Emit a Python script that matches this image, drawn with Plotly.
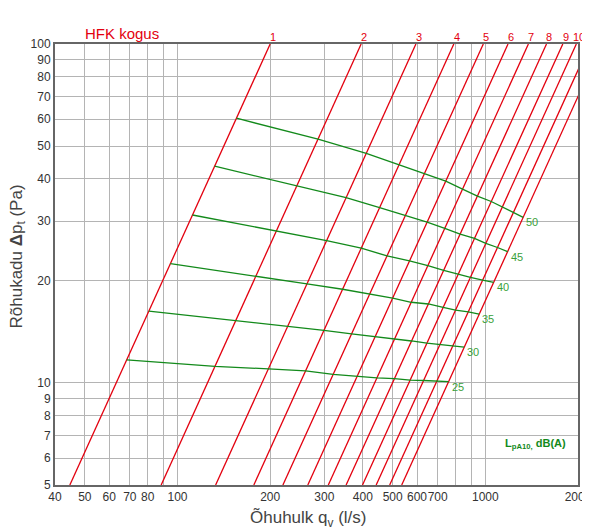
import numpy as np
import plotly.graph_objects as go

# ---- data ----
# damper-position (red) lines: flow q (l/s) at 5 Pa and at 100 Pa
damper_labels = ["1", "2", "3", "4", "5", "6", "7", "8", "9", "10", "11", "12"]
damper_q_at_5 = [44.7, 88.5, 133, 177, 220, 265, 309, 353, 399, 442, 489, 535]
damper_q_at_100 = [200, 395, 595, 790, 985, 1185, 1380, 1580, 1785, 1975, 2185, 2390]

# sound level (green) lines: pressure drop at each crossing with damper lines 1..12
sound_levels = [25, 30, 35, 40, 45, 50]
sound_dp_25 = [11.7, 11.2, 11.0, 10.86, 10.6, 10.45, 10.35, 10.3, 10.2, 10.17, 10.14, 10.09]
sound_dp_30 = [16.3, 15.3, 14.7, 14.3, 13.95, 13.7, 13.5, 13.3, 13.1, 12.98, 12.9, 12.75]
sound_dp_35 = [22.5, 20.7, 19.6, 18.9, 18.3, 17.8, 17.3, 17.1, 16.7, 16.4, 16.2, 15.95]
sound_dp_40 = [31.3, 28.1, 26.3, 25.0, 23.7, 22.9, 22.2, 21.5, 21.0, 20.5, 20.1, 19.8]
sound_dp_45 = [43.6, 38.2, 35.2, 32.9, 31.2, 29.8, 28.6, 27.5, 26.7, 25.8, 25.1, 24.4]
sound_dp_50 = [60.4, 52.4, 47.6, 44.0, 41.4, 39.4, 37.3, 35.6, 34.3, 33.0, 31.9, 30.8]
sound_dp = [sound_dp_25, sound_dp_30, sound_dp_35, sound_dp_40, sound_dp_45, sound_dp_50]

x_tickvals = [40, 50, 60, 70, 80, 90, 100, 200, 300, 400, 500, 600, 700, 800, 900, 1000, 2000]
x_ticktext = ["40", "50", "60", "70", "80", " ", "100", "200", "300", "400", "500", "600", "700", " ", " ", "1000", "2000"]
y_tickvals = [5, 6, 7, 8, 9, 10, 20, 30, 40, 50, 60, 70, 80, 90, 100]
y_ticktext = [str(v) for v in y_tickvals]

RED = "#e3000f"
GREEN = "#138a1b"
GREEN_TXT = "#3a9f3a"
FONT = "Liberation Sans, Arial, sans-serif"


def q_on_damper(i, dp):
    q5, q100 = damper_q_at_5[i], damper_q_at_100[i]
    expo = np.log(q100 / q5) / np.log(20.0)
    return q5 * (np.asarray(dp) / 5.0) ** expo


def dp_on_damper(i, q):
    q5, q100 = damper_q_at_5[i], damper_q_at_100[i]
    expo = np.log(20.0) / np.log(q100 / q5)
    return 5.0 * (q / q5) ** expo


fig = go.Figure()

for i, lab in enumerate(damper_labels):
    fig.add_trace(go.Scatter(x=[damper_q_at_5[i], damper_q_at_100[i]], y=[5, 100],
                             mode="lines", line=dict(color=RED, width=1.3),
                             showlegend=False, hoverinfo="skip"))

for lvl, dps in zip(sound_levels, sound_dp):
    qs = [float(q_on_damper(i, d)) for i, d in enumerate(dps)]
    fig.add_trace(go.Scatter(x=qs, y=dps, mode="lines",
                             line=dict(color=GREEN, width=1.3),
                             showlegend=False, hoverinfo="skip"))

annotations = []
for i, lab in enumerate(damper_labels):
    if damper_q_at_100[i] <= 2000:
        annotations.append(dict(x=np.log10(damper_q_at_100[i]), y=2.0, xref="x", yref="y",
                                text=lab, showarrow=False, xanchor="center", yanchor="bottom",
                                xshift=3, yshift=-1, font=dict(size=11, color=RED, family=FONT)))
    else:
        annotations.append(dict(x=np.log10(2000), y=np.log10(dp_on_damper(i, 2000.0)),
                                xref="x", yref="y", text=lab, showarrow=False,
                                xanchor="left", yanchor="middle", xshift=3, yshift=1,
                                font=dict(size=11, color=RED, family=FONT)))

for lvl, dps in zip(sound_levels, sound_dp):
    q_end = float(q_on_damper(len(damper_labels) - 1, dps[-1]))
    annotations.append(dict(x=np.log10(q_end), y=np.log10(dps[-1]), xref="x", yref="y",
                            text=str(lvl), showarrow=False, xanchor="left", yanchor="middle",
                            xshift=1, yshift=-5, font=dict(size=11, color=GREEN_TXT, family=FONT)))

annotations += [
    dict(x=0.054, y=1.0, xref="paper", yref="paper", text="HFK kogus", showarrow=False,
         xanchor="left", yanchor="bottom", xshift=0, yshift=0,
         font=dict(size=15, color=RED, family=FONT)),
    dict(x=0.5, y=0.0, xref="paper", yref="paper", text="Õhuhulk q<sub>v</sub> (l/s)",
         showarrow=False, xanchor="center", yanchor="middle", xshift=-8, yshift=-34,
         font=dict(size=17, color="#444", family=FONT)),
    dict(x=0.0, y=0.5, xref="paper", yref="paper", text="Rõhukadu <b>Δ</b>p<sub>t</sub> (Pa)",
         showarrow=False, xanchor="center", yanchor="middle", xshift=-38, yshift=8,
         textangle=-90, font=dict(size=17, color="#444", family=FONT)),
    dict(x=1.0, y=np.log10(7.0), xref="paper", yref="y",
         text="<b>L<sub>pA10,</sub> dB(A)</b>", showarrow=False, xanchor="right",
         yanchor="middle", xshift=-10, yshift=-9,
         font=dict(size=11, color=GREEN, family=FONT)),
]

# page body adds an 8px offset, so the figure is sized to fit the 590x529 window
fig.update_layout(
    width=582, height=521,
    margin=dict(l=47, r=12, t=36, b=44),
    paper_bgcolor="white", plot_bgcolor="white",
    font=dict(family=FONT, color="#333", size=12),
    annotations=annotations,
    showlegend=False,
)
fig.update_xaxes(type="log", range=[np.log10(40), np.log10(2000)],
                 tickmode="array", tickvals=x_tickvals, ticktext=x_ticktext,
                 tickangle=0, automargin=False, ticklabeloverflow="allow",
                 showgrid=True, gridcolor="#b4b4b4", gridwidth=1.2,
                 showline=True, linecolor="#666", linewidth=2, mirror=True,
                 ticks="", zeroline=False, tickfont=dict(size=12, color="#333"))
fig.update_yaxes(type="log", range=[np.log10(5), np.log10(100)],
                 tickmode="array", tickvals=y_tickvals, ticktext=y_ticktext,
                 automargin=False, ticklabeloverflow="allow",
                 showgrid=True, gridcolor="#b4b4b4", gridwidth=1.2,
                 showline=True, linecolor="#666", linewidth=2, mirror=True,
                 ticks="", zeroline=False, tickfont=dict(size=12, color="#333"))

fig.write_html("out.html")
